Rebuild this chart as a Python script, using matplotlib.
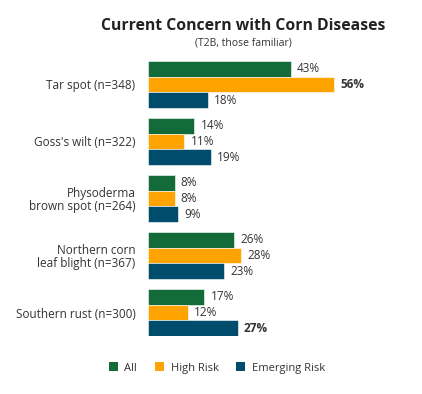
import matplotlib
matplotlib.use("Agg")
import matplotlib.pyplot as plt
from matplotlib.patches import Patch
import numpy as np

categories = ["Tar spot (n=348)", "Goss's wilt (n=322)", "Physoderma\nbrown spot (n=264)",
              "Northern corn\nleaf blight (n=367)", "Southern rust (n=300)"]
series_names = ["All", "High Risk", "Emerging Risk"]
all_vals = [43, 14, 8, 26, 17]
high_vals = [56, 11, 8, 28, 12]
emerging_vals = [18, 19, 9, 23, 27]
bold_labels = {(1, 0), (2, 4)}  # (series index, category index)

colors = ["#136B3A", "#FFA300", "#004C6C"]
text_color = "#333333"

plt.rcParams['font.family'] = ['Open Sans', 'DejaVu Sans']

fig = plt.figure(figsize=(4.22, 3.94), dpi=100)
ax = fig.add_axes([148/422, (394-336)/394, (400-148)/422, (336-61)/394])

h = 0.274
y = np.arange(len(categories))
for si, vals in enumerate([all_vals, high_vals, emerging_vals]):
    pos = y + (si - 1) * h
    ax.barh(pos, vals, height=h, color=colors[si], edgecolor="white", linewidth=0.4)
    for ci, (p, v) in enumerate(zip(pos, vals)):
        ax.text(v + 1.9, p, f"{v}%", va="center", ha="left", fontsize=8.5,
                color=text_color,
                fontweight="bold" if (si, ci) in bold_labels else "normal")

ax.set_xlim(0, 76)
ax.set_ylim(len(categories) - 1 + 1.5*h, -1.5*h)
ax.set_yticks(y)
ax.set_yticklabels(categories, fontsize=8.5, color=text_color, ha="right", linespacing=1.0)
ax.tick_params(axis="y", length=0, pad=9)
ax.set_xticks([])
for s in ax.spines.values():
    s.set_visible(False)

fig.text(243/422, 1-26/394, "Current Concern with Corn Diseases", ha="center", va="center",
         fontsize=11.3, fontweight="bold", color="#222222")
fig.text(243/422, 1-43/394, "(T2B, those familiar)", ha="center", va="center",
         fontsize=7.5, color=text_color)

handles = [Patch(facecolor=c, edgecolor="none") for c in colors]
fig.legend(handles, series_names, loc="center", bbox_to_anchor=(217/422, 1-368/394),
           ncol=3, frameon=False, fontsize=8, handlelength=0.8, handleheight=0.8,
           handletextpad=0.6, columnspacing=1.6, labelcolor=text_color)

fig.savefig("out.png", dpi=100, facecolor="white")
